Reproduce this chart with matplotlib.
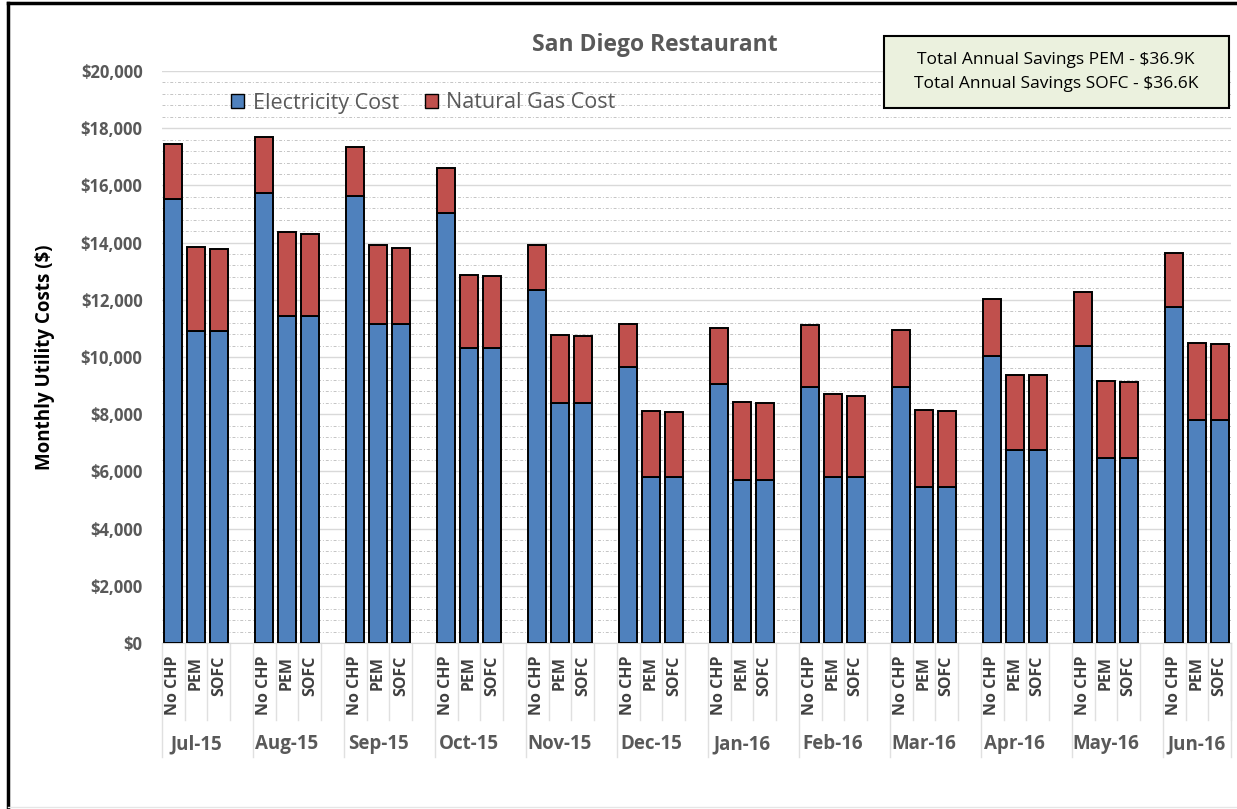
import matplotlib.pyplot as plt
from matplotlib.patches import Patch, Rectangle
from matplotlib.lines import Line2D
import matplotlib.transforms as mtransforms

plt.rcParams['font.family'] = ['Open Sans', 'DejaVu Sans']

months = ['Jul-15', 'Aug-15', 'Sep-15', 'Oct-15', 'Nov-15', 'Dec-15',
          'Jan-16', 'Feb-16', 'Mar-16', 'Apr-16', 'May-16', 'Jun-16']
cases = ['No CHP', 'PEM', 'SOFC']

# electricity cost per month: No CHP, PEM, SOFC
elec_nochp = [15510, 15734, 15618, 15023, 12354, 9650, 9067, 8962, 8962, 10047, 10396, 11748]
elec_pem = [10909, 11445, 11165, 10315, 8380, 5794, 5710, 5804, 5443, 6737, 6480, 7808]
elec_sofc = [10909, 11445, 11165, 10315, 8380, 5794, 5710, 5804, 5443, 6737, 6480, 7808]
# total (electricity + gas) per month
total_nochp = [17448, 17704, 17355, 16597, 13905, 11165, 11025, 11130, 10944, 12016, 12284, 13636]
total_pem = [13846, 14360, 13905, 12879, 10769, 8123, 8427, 8706, 8158, 9382, 9149, 10500]
total_sofc = [13766, 14300, 13822, 12832, 10723, 8077, 8380, 8648, 8100, 9359, 9114, 10455]

savings_lines = ['Total Annual Savings PEM - $36.9K', 'Total Annual Savings SOFC - $36.6K']

W, H = 1237, 809
fig = plt.figure(figsize=(W / 100, H / 100), dpi=100)

def fx(x):
    return x / W

def fy(y):
    return 1 - y / H

ax = fig.add_axes([fx(162), fy(643), fx(1231) - fx(162), fy(71) - fy(643)])

blue = '#4f81bd'
red = '#c0504d'

elec = [elec_nochp, elec_pem, elec_sofc]
tot = [total_nochp, total_pem, total_sofc]
xs, xl = [], []
for g, m in enumerate(months):
    for s, c in enumerate(cases):
        x = g * 4 + s
        e = elec[s][g]
        gas = tot[s][g] - e
        ax.bar(x, e, width=0.8, color=blue, edgecolor='black', linewidth=1.4, zorder=3)
        ax.bar(x, gas, bottom=e, width=0.8, color=red, edgecolor='black', linewidth=1.4, zorder=3)
        xs.append(x)
        xl.append(c)

ax.set_xlim(-0.5, 46.5)
ax.set_ylim(0, 20000)
ax.set_yticks(range(0, 20001, 2000))
ax.set_yticklabels(['${:,}'.format(v) for v in range(0, 20001, 2000)])
ax.set_yticks(range(0, 20001, 400), minor=True)
ax.grid(axis='y', which='major', color='#d9d9d9', linewidth=1.0, zorder=0)
ax.grid(axis='y', which='minor', color='#c4c4c4', linewidth=0.7,
        linestyle=(0, (3, 2, 1, 2)), zorder=0)
ax.tick_params(axis='y', which='both', length=0, pad=14, labelsize=12,
               labelcolor='#595959')
for lab in ax.get_yticklabels():
    lab.set_fontweight('bold')

ax.set_xticks(xs)
ax.set_xticklabels(xl, rotation=90, fontsize=11.5, fontweight='bold', color='#404040')
ax.tick_params(axis='x', length=0, pad=9)

for sp in ['left', 'right', 'top']:
    ax.spines[sp].set_visible(False)
ax.spines['bottom'].set_color('#d9d9d9')

trans = mtransforms.blended_transform_factory(ax.transData, ax.transAxes)
ah = 643 - 71
inner_bot = -(720 - 643) / ah
outer_bot = -(757 - 643) / ah
for g, m in enumerate(months):
    ax.text(g * 4 + 1, -(744 - 643) / ah, m, transform=trans, ha='center', va='center',
            fontsize=13.5, fontweight='bold', color='#595959')
    for k in [0.5, 1.5, 2.5]:
        ax.add_line(Line2D([g * 4 + k] * 2, [0, inner_bot], transform=trans,
                           color='#e0e0e0', linewidth=1, clip_on=False))
    ax.add_line(Line2D([g * 4 - 0.5] * 2, [0, outer_bot], transform=trans,
                       color='#e0e0e0', linewidth=1, clip_on=False))
ax.add_line(Line2D([46.5] * 2, [0, outer_bot], transform=trans,
                   color='#e0e0e0', linewidth=1, clip_on=False))

ax.set_ylabel('Monthly Utility Costs ($)', fontsize=13.5, fontweight='bold', color='black')
ax.yaxis.set_label_coords(fx(55), fy(357), transform=fig.transFigure)

fig.text(fx(655), fy(45), 'San Diego Restaurant', ha='center', va='center',
         fontsize=16.5, fontweight='bold', color='#595959')

handles = [Patch(facecolor=blue, edgecolor='black', linewidth=1, label='Electricity Cost'),
           Patch(facecolor=red, edgecolor='black', linewidth=1, label='Natural Gas Cost')]
leg = fig.legend(handles=handles, loc='center left', bbox_to_anchor=(fx(212), fy(103)),
                 ncol=2, frameon=False, fontsize=15.5, handlelength=0.6, handleheight=0.6,
                 handletextpad=0.4, columnspacing=1.2)
for t in leg.get_texts():
    t.set_color('#595959')

fig.patches.append(Rectangle((fx(884), fy(108)), fx(1229) - fx(884), fy(36) - fy(108),
                             transform=fig.transFigure, facecolor='#ebf1de',
                             edgecolor='black', linewidth=1.5, zorder=5))
fig.text(fx(1056), fy(60), savings_lines[0], ha='center', va='center', fontsize=12.5,
         color='black', zorder=6)
fig.text(fx(1056), fy(84), savings_lines[1], ha='center', va='center', fontsize=12.5,
         color='black', zorder=6)

fig.add_artist(Line2D([fx(8), fx(8)], [fy(3), fy(807)], color='black', linewidth=2.5))
fig.add_artist(Line2D([fx(8), fx(1237)], [fy(3), fy(3)], color='black', linewidth=2.5))
fig.add_artist(Line2D([fx(8), fx(1237)], [fy(807), fy(807)], color='#e6e6e6', linewidth=1))

fig.savefig('out.png', dpi=100)
